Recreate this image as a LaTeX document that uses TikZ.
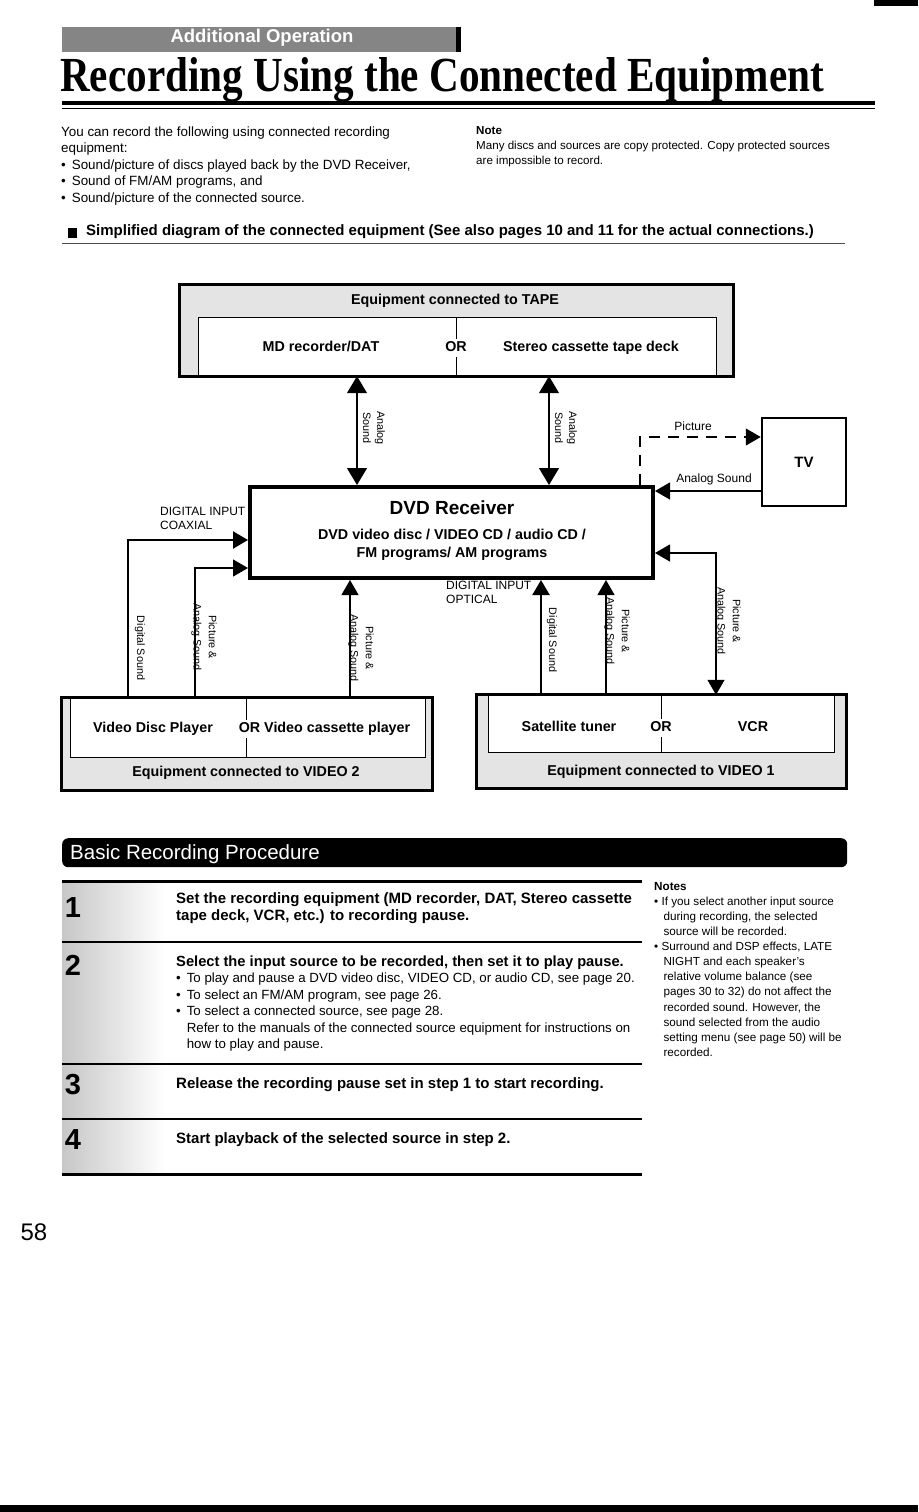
\documentclass[tikz,border=0pt]{standalone}
\usepackage{fontspec}
\setmainfont{Liberation Sans}
\newfontfamily\titlefont{Liberation Serif}[FakeStretch=0.84]
\usepackage{tikz}
\usetikzlibrary{arrows.meta,positioning,calc}
\definecolor{screen}{HTML}{E4E4E4}
\definecolor{band}{HTML}{858585}
\newcommand{\hang}{\phantom{\textbullet\ \,}}
\newcommand{\bul}{\textbullet\ \,}

\begin{document}
\begin{tikzpicture}[x=1pt, y=-1pt,
  font=\fontsize{13.4}{16.5}\selectfont,
  outer/.style={fill=screen, inner sep=0pt},
  inner/.style={draw, line width=0.8pt, fill=white, inner sep=0pt},
  unit/.style={draw, line width=#1, inner sep=0pt, align=center},
  lbl/.style={font=\fontsize{14.3}{18}\selectfont\bfseries, inner sep=1pt},
  boxlbl/.style={lbl, text height=10.5pt, text depth=3pt},
  orlbl/.style={boxlbl, fill=white, inner sep=2pt},
  small/.style={font=\fontsize{12}{14}\selectfont, inner sep=0pt, align=left},
  side/.style={font=\fontsize{10.8}{13.2}\selectfont, rotate=-90, align=center, inner sep=0pt},
  arr/.style={line width=1.2pt, -{Triangle[length=15pt, width=17pt]}},
  both/.style={line width=1.2pt, {Triangle[length=17pt, width=20pt]}-{Triangle[length=17pt, width=20pt]}},
  digital/.style={arr, line width=2.2pt},
  steptext/.style={anchor=north west, align=left, inner sep=0, font=\fontsize{15}{17}\selectfont\bfseries},
  rule/.style={line width=#1}
]
\useasboundingbox (0,0) rectangle (918,1512);
\fill[white] (0,0) rectangle (918,1512);
\fill (874,0) rectangle (918,6);
\fill (0,1505) rectangle (918,1512);

% page head
\node[fill=band, minimum width=396, minimum height=25, inner sep=0, anchor=north west] (band) at (62,27) {};
\draw[line width=5pt] (band.north east) -- (band.south east);
\node[white, font=\fontsize{18.5}{20}\selectfont\bfseries] at (262,38) {Additional Operation};
\node[anchor=base west, inner sep=0, font=\titlefont\fontsize{49}{55}\selectfont\bfseries] (title) at (60,92) {Recording Using the Connected Equipment};
\draw[rule=3.5pt] (62,103) -- (875,103);
\draw[rule=1pt] (62,108.5) -- (875,108.5);

\node[anchor=north west, align=left, inner sep=0] (intro) at (61,126.5) {You can record the following using connected recording\\
equipment:\\
\bul Sound/picture of discs played back by the DVD Receiver,\\
\bul Sound of FM/AM programs, and\\
\bul Sound/picture of the connected source.};
\node[anchor=north west, align=left, inner sep=0, font=\fontsize{11.6}{15}\selectfont] (note) at (476,126) {\textbf{Note}\\
Many discs and sources are copy protected. Copy protected sources\\
are impossible to record.};

\fill (68,228) rectangle (77,238);
\node[anchor=west, inner sep=0, font=\fontsize{15}{18}\selectfont\bfseries] (simpl) at (86,232) {Simplified diagram of the connected equipment (See also pages 10 and 11 for the actual connections.)};
\draw[rule=0.6pt, black!70] (62,243) -- (845,243);

% equipment connected to TAPE
\node[outer, minimum width=553, minimum height=91] (tape) at (456.5,330.5) {};
\node[inner, minimum width=518, minimum height=59, anchor=north] (tapein) at (457,317) {};
\draw[line width=3pt] (tape.north west) rectangle (tape.south east);
\draw (456,317) -- (456,376);
\node[boxlbl] at (455,301) {Equipment connected to TAPE};
\node[boxlbl] (md) at (321,348) {MD recorder/DAT};
\node[orlbl] at (456,348) {OR};
\node[boxlbl] (deck) at (591,348) {Stereo cassette tape deck};

% DVD receiver and TV
\node[unit=4pt, minimum width=403, minimum height=91] (dvd) at (451.5,532.5) {};
\node[font=\fontsize{19}{22}\selectfont\bfseries] at (452,508) {DVD Receiver};
\node[lbl, align=center] at (452,545) {DVD video disc / VIDEO CD / audio CD /\\FM programs/ AM programs};
\node[unit=2.5pt, minimum width=84, minimum height=88, font=\fontsize{15}{18}\selectfont\bfseries] (tv) at (804,462) {TV};

% equipment connected to VIDEO 2
\node[outer, minimum width=370, minimum height=92] (vtwo) at (247,744) {};
\node[inner, minimum width=355, minimum height=59, anchor=north] (vtwoin) at (247.5,698) {};
\draw[line width=3pt] (vtwo.north west) rectangle (vtwo.south east);
\draw (246,698) -- (246,757);
\node[boxlbl] at (153,729) {Video Disc Player};
\node[orlbl] at (324.5,729) {OR Video cassette player};
\node[boxlbl] at (246,773) {Equipment connected to VIDEO 2};

% equipment connected to VIDEO 1
\node[outer, minimum width=369, minimum height=93] (vone) at (661.5,741.5) {};
\node[inner, minimum width=346, minimum height=57, anchor=north] (vonein) at (661,695) {};
\draw[line width=3pt] (vone.north west) rectangle (vone.south east);
\draw (661,695) -- (661,752);
\node[boxlbl] at (569,728) {Satellite tuner};
\node[orlbl] at (661,728) {OR};
\node[boxlbl] at (753,728) {VCR};
\node[boxlbl] at (661,772) {Equipment connected to VIDEO 1};

% connections
\coordinate (tl) at (357,0);
\coordinate (tr) at (549,0);
\coordinate (pic) at (640,437);
\coordinate (snd) at (0,491);
\coordinate (coax) at (128,540);
\coordinate (pavt) at (195,568);
\coordinate (pavm) at (350,0);
\coordinate (opt) at (541,0);
\coordinate (pavo) at (606,0);
\coordinate (pout) at (716,553);

\draw[both] (tape.south -| tl) -- (dvd.north -| tl);
\draw[both] (tape.south -| tr) -- (dvd.north -| tr);
\draw[arr, dashed, dash pattern=on 11pt off 8pt] (dvd.north -| pic) |- (tv.west |- pic);
\draw[arr] (tv.west |- snd) -- (dvd.east |- snd);
\draw[digital] (vtwo.north -| coax) |- (dvd.west |- coax);
\draw[arr] (vtwo.north -| pavt) |- (dvd.west |- pavt);
\draw[arr] (vtwo.north -| pavm) -- (dvd.south -| pavm);
\draw[digital] (vone.north -| opt) -- (dvd.south -| opt);
\draw[arr] (vone.north -| pavo) -- (dvd.south -| pavo);
\draw[arr, {Triangle[length=15pt, width=17pt]}-{Triangle[length=15pt, width=17pt]}] (vone.north -| pout) |- (dvd.east |- pout);

\node[side] at (374,428) {Analog\\[1pt]Sound};
\node[side] at (566,428) {Analog\\[1pt]Sound};
\node[small] at (693,426) {Picture};
\node[small] at (714,479) {Analog Sound};
\node[small, anchor=north west] at (160,507) {DIGITAL INPUT\\COAXIAL};
\node[small, anchor=north west] at (446,581) {DIGITAL INPUT\\OPTICAL};
\node[side] at (140,648) {Digital Sound};
\node[side] at (204,637) {Picture \&\\[2pt]Analog Sound};
\node[side] at (361,648) {Picture \&\\[2pt]Analog Sound};
\node[side] at (552,640) {Digital Sound};
\node[side] at (617,631) {Picture \&\\[2pt]Analog Sound};
\node[side] at (728,621) {Picture \&\\[2pt]Analog Sound};

% basic recording procedure
\node[fill=black, rounded corners=6pt, minimum width=785, minimum height=29, inner sep=0, anchor=north west] (bar) at (62,838) {};
\node[white, anchor=west, inner sep=0, font=\fontsize{20.5}{22}\selectfont] at (70,854) {Basic Recording Procedure};
\shade[left color=black!22, right color=white] (62,881) rectangle (165,1174);
\draw[rule=3pt] (62,881) -- (642,881);
\draw[rule=1.3pt] (62,942) -- (642,942);
\draw[rule=1.3pt] (62,1064) -- (642,1064);
\draw[rule=1.3pt] (62,1119) -- (642,1119);
\draw[rule=3pt] (62,1174) -- (642,1174);
\foreach \n/\y in {1/908, 2/965, 3/1085, 4/1140}
  \node[font=\fontsize{29}{30}\selectfont\bfseries] at (73,\y) {\n};

\node[steptext] (s1) at (176,892.5) {Set the recording equipment (MD recorder, DAT, Stereo cassette\\tape deck, VCR, etc.) to recording pause.};
\node[anchor=north west, align=left, inner sep=0, font=\fontsize{13.3}{16.5}\selectfont] (s2) at (176,955.5) {\textbf{\fontsize{14.7}{17.5}\selectfont Select the input source to be recorded, then set it to play pause.}\\
\bul To play and pause a DVD video disc, VIDEO CD, or audio CD, see page 20.\\
\bul To select an FM/AM program, see page 26.\\
\bul To select a connected source, see page 28.\\
\hang Refer to the manuals of the connected source equipment for instructions on\\
\hang how to play and pause.};
\node[steptext] (s3) at (176,1077.5) {Release the recording pause set in step 1 to start recording.};
\node[steptext] (s4) at (176,1132.5) {Start playback of the selected source in step 2.};

\node[anchor=north west, align=left, inner sep=0, font=\fontsize{11.7}{15.1}\selectfont] (notes) at (654,882) {\textbf{Notes}\\
\textbullet\ If you select another input source\\
\hang during recording, the selected\\
\hang source will be recorded.\\
\textbullet\ Surround and DSP effects, LATE\\
\hang NIGHT and each speaker's\\
\hang relative volume balance (see\\
\hang pages 30 to 32) do not affect the\\
\hang recorded sound. However, the\\
\hang sound selected from the audio\\
\hang setting menu (see page 50) will be\\
\hang recorded.};

\node[font=\fontsize{24}{26}\selectfont] (page) at (34,1232) {58};
\end{tikzpicture}
\end{document}
